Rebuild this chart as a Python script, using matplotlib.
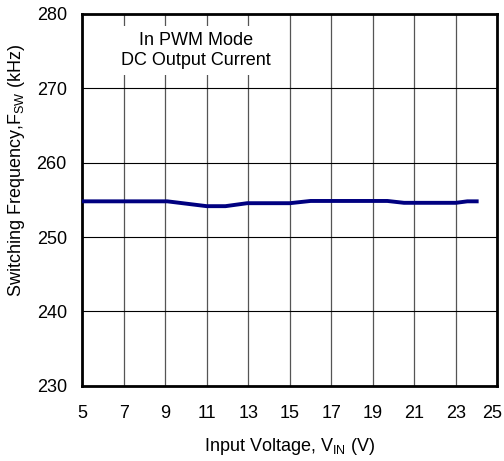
import matplotlib
matplotlib.use("Agg")
import matplotlib.pyplot as plt
import matplotlib.transforms as mtransforms

plt.rcParams['font.family'] = ['Liberation Sans', 'DejaVu Sans']
plt.rcParams['mathtext.fontset'] = 'custom'
plt.rcParams['mathtext.rm'] = 'Liberation Sans'

# Input voltage (V) and switching frequency (kHz)
vin = [5, 9.1, 11.0, 11.9, 12.95, 15.0, 16.0, 19.7, 20.5, 23.0, 23.55, 24.0]
fsw = [254.8, 254.8, 254.15, 254.15, 254.55, 254.55, 254.85, 254.85, 254.6, 254.6, 254.8, 254.8]

xticks = [5, 7, 9, 11, 13, 15, 17, 19, 21, 23, 25]
yticks = [230, 240, 250, 260, 270, 280]

fig = plt.figure(figsize=(5.04, 4.61), dpi=100)
ax = fig.add_axes([0.163, 0.163, 0.824, 0.807])

ax.plot(vin, fsw, color='#000080', lw=2.8, zorder=3)

ax.set_xlim(5, 25)
ax.set_ylim(230, 280)
ax.set_xticks(xticks)
ax.set_yticks(yticks)
ax.tick_params(length=0, labelsize=13)
ax.tick_params(axis='x', pad=14)
ax.tick_params(axis='y', pad=11)
ax.grid(axis='x', color='#555555', lw=0.9)
ax.grid(axis='y', color='black', lw=0.8)
for s in ax.spines.values():
    s.set_linewidth(2)

# keep the last x label inside the figure
last = ax.get_xticklabels()[-1]
last.set_transform(last.get_transform() +
                   mtransforms.ScaledTranslation(-4 / 72, 0, fig.dpi_scale_trans))

ax.text(10.5, 275.1, 'In PWM Mode\nDC Output Current', ha='center', va='center',
        fontsize=13, linespacing=1.25,
        bbox=dict(facecolor='white', edgecolor='none', pad=4), zorder=4)

ax.set_xlabel(r'Input Voltage, V$_{\mathregular{IN}}$ (V)', fontsize=13)
ax.set_ylabel(r'Switching Frequency,F$_{\mathregular{SW}}$ (kHz)', fontsize=13)
ax.xaxis.set_label_coords(0.5, -0.135)
ax.yaxis.set_label_coords(-0.133, 0.58)

fig.savefig('out.png', dpi=100)
